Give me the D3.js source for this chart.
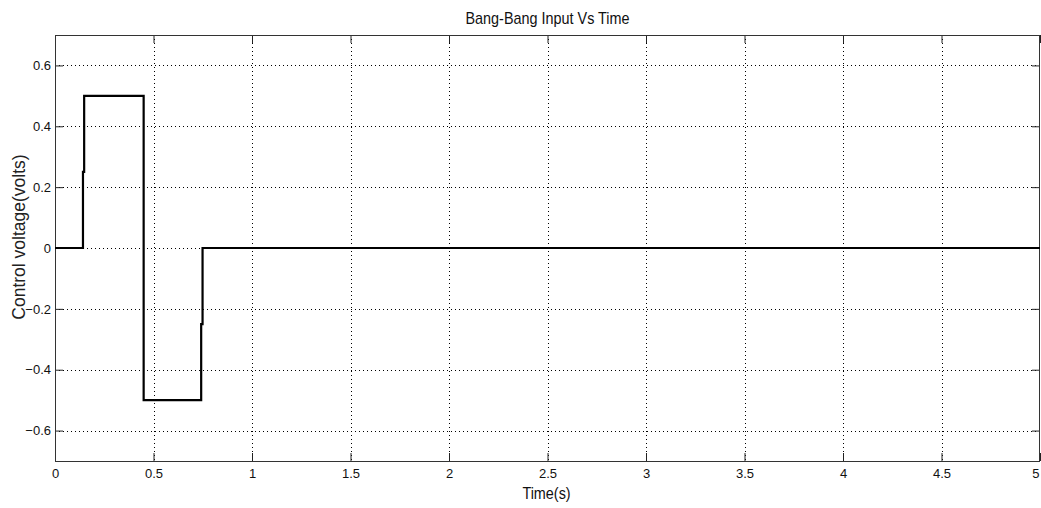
<!DOCTYPE html>
<html>
<head>
<meta charset="utf-8">
<script src="https://cdn.jsdelivr.net/npm/d3@7"></script>
<style>
  body { margin: 0; background: #fff; }
  svg { display: block; }
  .tick-label { font-family: "Liberation Sans", Arial, sans-serif; font-size: 13px; fill: #111; }
  .title { font-family: "Liberation Sans", Arial, sans-serif; font-size: 16px; fill: #111; }
  .ylabel { font-family: "Liberation Sans", Arial, sans-serif; font-size: 17.5px; fill: #222; }
</style>
</head>
<body>
<div id="chart"></div>
<script>
// signal samples (time in s, control voltage in volts)
const times  = [0, 0.142, 0.142, 0.148, 0.148, 0.45, 0.45, 0.742, 0.742, 0.749, 0.749, 5];
const volts  = [0, 0,     0.25,  0.25,  0.5,   0.5,  -0.5, -0.5,  -0.25, -0.25, 0,     0];

const xTicks = [0, 0.5, 1, 1.5, 2, 2.5, 3, 3.5, 4, 4.5, 5];
const yTicks = [-0.6, -0.4, -0.2, 0, 0.2, 0.4, 0.6];

const width = 1041, height = 508;
const margin = { top: 35, right: 1, bottom: 47, left: 55 };
const innerW = width - margin.left - margin.right;
const innerH = height - margin.top - margin.bottom;

const svg = d3.select("#chart").append("svg")
  .attr("width", width)
  .attr("height", height);

const x = d3.scaleLinear().domain([0, 5]).range([margin.left, margin.left + innerW]);
const y = d3.scaleLinear().domain([-0.7, 0.7]).range([margin.top + innerH, margin.top]);

// dotted grid
svg.append("g").selectAll("line.vg")
  .data(xTicks.slice(1, -1))
  .join("line")
  .attr("x1", d => Math.round(x(d)) + 0.5).attr("x2", d => Math.round(x(d)) + 0.5)
  .attr("y1", margin.top).attr("y2", margin.top + innerH)
  .attr("stroke", "#000").attr("stroke-width", 1).attr("stroke-dasharray", "1,3");

svg.append("g").selectAll("line.hg")
  .data(yTicks)
  .join("line")
  .attr("y1", d => Math.round(y(d)) + 0.5).attr("y2", d => Math.round(y(d)) + 0.5)
  .attr("x1", margin.left).attr("x2", margin.left + innerW)
  .attr("stroke", "#000").attr("stroke-width", 1).attr("stroke-dasharray", "1,3");

// axes with inward ticks
const tickLen = 8;
const xAxis = d3.axisBottom(x).tickValues(xTicks).tickSize(-tickLen).tickPadding(8).tickFormat(d3.format("~g"));
const yAxis = d3.axisLeft(y).tickValues(yTicks).tickSize(-tickLen).tickPadding(4).tickFormat(d3.format("~g"));

const gx = svg.append("g").attr("transform", `translate(0,${margin.top + innerH})`).call(xAxis);
const gy = svg.append("g").attr("transform", `translate(${margin.left},0)`).call(yAxis);
const gxt = svg.append("g").attr("transform", `translate(0,${margin.top})`)
  .call(d3.axisTop(x).tickValues(xTicks).tickSize(-tickLen).tickFormat(""));
const gyr = svg.append("g").attr("transform", `translate(${margin.left + innerW},0)`)
  .call(d3.axisRight(y).tickValues(yTicks).tickSize(-tickLen).tickFormat(""));

[gx, gy, gxt, gyr].forEach(g => {
  g.select(".domain").remove();
  g.selectAll(".tick line").attr("stroke", "#222");
  g.selectAll("text").attr("class", "tick-label").attr("fill", null);
});
// last x label sits against the right edge
gx.selectAll(".tick").filter(d => d === 5).select("text").attr("text-anchor", "end").attr("x", -1);

// box
svg.append("rect")
  .attr("x", margin.left + 0.5).attr("y", margin.top + 0.5)
  .attr("width", innerW - 1).attr("height", innerH)
  .attr("fill", "none").attr("stroke", "#333").attr("stroke-width", 1);

// signal
const line = d3.line().x((d, i) => x(times[i])).y(d => y(d));
svg.append("path")
  .datum(volts)
  .attr("d", line)
  .attr("fill", "none")
  .attr("stroke", "#000")
  .attr("stroke-width", 2.2);

// title and labels
svg.append("text").attr("class", "title")
  .attr("transform", `translate(${margin.left + innerW / 2},24) scale(0.9,1)`)
  .attr("text-anchor", "middle")
  .text("Bang-Bang Input Vs Time");

svg.append("text").attr("class", "title")
  .attr("transform", `translate(${margin.left + innerW / 2 - 1},499) scale(0.9,1)`)
  .attr("text-anchor", "middle")
  .text("Time(s)");

svg.append("text").attr("class", "ylabel")
  .attr("transform", `translate(25,237) rotate(-90)`)
  .attr("text-anchor", "middle")
  .text("Control voltage(volts)");
</script>
</body>
</html>
